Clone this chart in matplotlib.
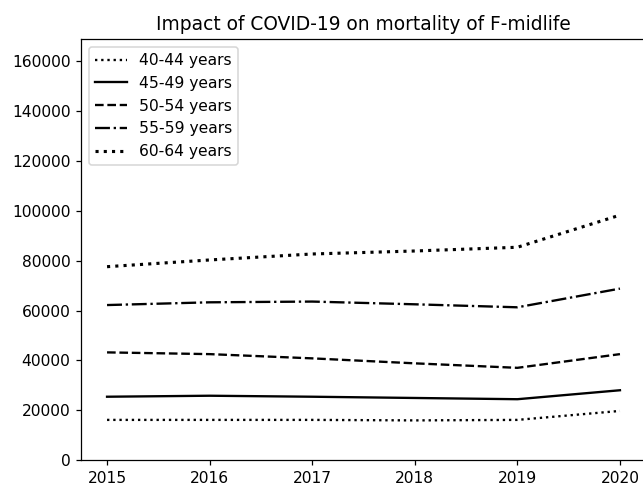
import matplotlib
matplotlib.use("Agg")
import matplotlib.pyplot as plt

years = [2015, 2016, 2017, 2018, 2019, 2020]
labels = ["40-44 years", "45-49 years", "50-54 years", "55-59 years", "60-64 years"]
v40_44 = [16100, 16100, 16100, 15900, 16100, 19700]
v45_49 = [25400, 25800, 25400, 24900, 24400, 28000]
v50_54 = [43200, 42500, 40800, 38800, 37000, 42500]
v55_59 = [62200, 63300, 63600, 62500, 61300, 68800]
v60_64 = [77600, 80300, 82700, 83900, 85400, 98300]

series = [v40_44, v45_49, v50_54, v55_59, v60_64]
styles = [(':', 1.5), ('-', 1.5), ('--', 1.5), ('-.', 1.5), (':', 2.0)]

DPI = 112
fig = plt.figure(figsize=(643 / DPI, 485 / DPI), dpi=DPI)
ax = fig.add_axes([81.4 / 643, 25 / 485, 564.2 / 643, 421 / 485])
for vals, lab, (ls, lw) in zip(series, labels, styles):
    ax.plot(years, vals, color='black', linestyle=ls, linewidth=lw, label=lab)

ax.set_ylim(0, 169000)
ax.set_xlim(2014.75, 2020.25)
ax.set_xticks(years)
ax.set_title("Impact of COVID-19 on mortality of F-midlife", fontsize=12)
ax.legend(loc='upper left', fontsize=10)
fig.savefig("out.png", dpi=DPI)
